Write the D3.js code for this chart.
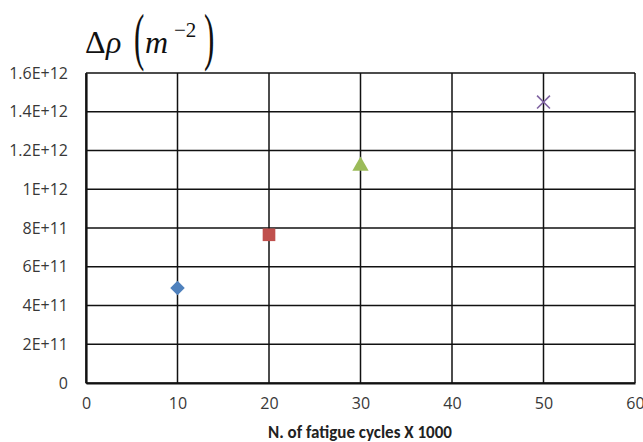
<!DOCTYPE html>
<html><head><meta charset="utf-8">
<script src="https://cdn.jsdelivr.net/npm/d3@7"></script>
<style>body{margin:0;background:#fff}svg{display:block}</style>
</head><body>
<script>
const cycles = [10, 20, 30, 50];
const deltaRho = [4.9e11, 7.65e11, 1.12e12, 1.45e12];
const symbols = ["diamond", "square", "triangle", "cross"];
const colors = ["#4F81BD", "#C0504D", "#9BBB59", "#8064A2"];
const xTicks = [0, 10, 20, 30, 40, 50, 60];
const yTicks = [0, 2e11, 4e11, 6e11, 8e11, 1e12, 1.2e12, 1.4e12, 1.6e12];
const yTickLabels = ["0", "2E+11", "4E+11", "6E+11", "8E+11", "1E+12", "1.2E+12", "1.4E+12", "1.6E+12"];
const xTitle = "N. of fatigue cycles X 1000";

const W = 643, H = 442;
const svg = d3.select("body").append("svg").attr("width", W).attr("height", H);
const x = d3.scaleLinear().domain([0, 60]).range([86, 635]);
const y = d3.scaleLinear().domain([0, 1.6e12]).range([383, 73]);

// gridlines
const g = svg.append("g");
g.selectAll(".h").data(yTicks).join("line")
  .attr("x1", x(0)).attr("x2", x(60)).attr("y1", d => y(d)).attr("y2", d => y(d))
  .attr("stroke", "#111").attr("stroke-width", 1.5);
g.selectAll(".v").data(xTicks).join("line")
  .attr("y1", y(0)).attr("y2", y(1.6e12)).attr("x1", d => x(d)).attr("x2", d => x(d))
  .attr("stroke", "#111").attr("stroke-width", 1.5);

// axes
const xAxis = d3.axisBottom(x).tickValues(xTicks).tickSize(0).tickPadding(15);
const yAxis = d3.axisLeft(y).tickValues(yTicks).tickSize(0).tickPadding(18)
  .tickFormat((d, i) => yTickLabels[i]);
const font = "Carlito, 'Liberation Sans', Calibri, sans-serif";
const tickFont = "'Open Sans', Carlito, sans-serif";
const ax = svg.append("g").attr("transform", `translate(0,${y(0)})`).call(xAxis);
const ay = svg.append("g").attr("transform", `translate(${x(0)},0)`).call(yAxis);
[ax, ay].forEach(a => {
  a.select(".domain").attr("stroke", "#111").attr("stroke-width", 2.2);
  a.attr("font-size", null).attr("font-family", null);
  a.selectAll("text").attr("fill", "#383838").style("font-family", tickFont).style("font-size", "16px");
});

// title x
svg.append("text").attr("x", 360).attr("y", 438).attr("text-anchor", "middle")
  .style("font-family", font).style("font-size", "17px").style("font-weight", "bold")
  .attr("fill", "#222").text(xTitle);

// y label (formula)
const serif = "'Liberation Serif', 'DejaVu Serif', serif";
const t = svg.append("g").style("font-family", serif).attr("fill", "#111");
t.append("text").attr("x", 85).attr("y", 53).style("font-size", "32px").text("Δ");
t.append("text").attr("x", 106).attr("y", 53).style("font-size", "32px").style("font-style", "italic").text("ρ");
t.append("text").attr("x", 134).attr("y", 58).style("font-size", "31px").attr("transform", "translate(134,58) scale(1,2.05) translate(-134,-58)").text("(");
t.append("text").attr("x", 145).attr("y", 53).style("font-size", "32px").style("font-style", "italic").text("m");
t.append("text").attr("x", 174).attr("y", 37).style("font-size", "21px").text("−2");
t.append("text").attr("x", 204).attr("y", 58).style("font-size", "31px").attr("transform", "translate(204,58) scale(1,2.05) translate(-204,-58)").text(")");

// points
const symMap = {diamond: d3.symbolSquare, square: d3.symbolSquare, triangle: d3.symbolTriangle, cross: d3.symbolX};
const symSize = {diamond: 105, square: 160, triangle: 115, cross: 110};
const pts = cycles.map((c, i) => ({c, v: deltaRho[i], s: symbols[i], col: colors[i]}));
svg.selectAll(".pt").data(pts).join("path")
  .attr("transform", d => `translate(${x(d.c)},${y(d.v)})` + (d.s === "diamond" ? " rotate(45)" : ""))
  .attr("d", d => d3.symbol().type(symMap[d.s]).size(symSize[d.s])())
  .attr("fill", d => d.s === "cross" ? "none" : d.col)
  .attr("stroke", d => d.s === "cross" ? d.col : "none")
  .attr("stroke-width", 1.6);
</script>
</body></html>
